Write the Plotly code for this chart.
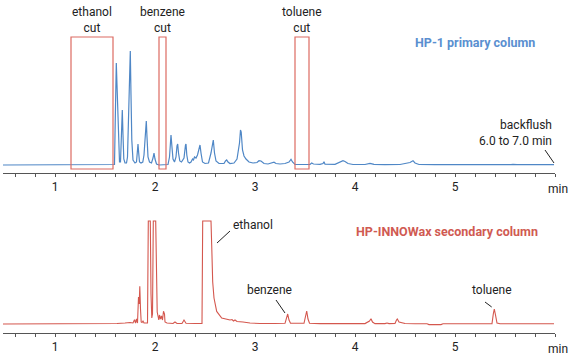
import plotly.graph_objects as go

# ---------------- data ----------------
# Primary column (HP-1) chromatogram: time (min) and relative response
primary_time = [0.48, 1.58, 1.595, 1.60, 1.605, 1.613, 1.62, 1.628, 1.635, 1.645, 1.655, 1.665, 1.673, 1.68,
                1.688, 1.70, 1.715, 1.725, 1.735, 1.745, 1.753, 1.76, 1.768, 1.78, 1.80, 1.815, 1.825, 1.83,
                1.837, 1.845, 1.86, 1.878, 1.89, 1.905, 1.913, 1.92, 1.93, 1.945, 1.965, 1.98, 1.99, 2.0,
                2.015, 2.04, 2.13, 2.145, 2.16, 2.168, 2.18, 2.195, 2.21, 2.22, 2.227, 2.235, 2.248, 2.265,
                2.29, 2.305, 2.31, 2.318, 2.33, 2.345, 2.36, 2.375, 2.385, 2.395, 2.41, 2.425, 2.44, 2.45,
                2.46, 2.475, 2.50, 2.535, 2.56, 2.575, 2.583, 2.595, 2.61, 2.64, 2.69, 2.705, 2.717, 2.73,
                2.75, 2.79, 2.82, 2.845, 2.855, 2.862, 2.875, 2.89, 2.91, 2.94, 2.98, 3.02, 3.04, 3.06,
                3.09, 3.13, 3.17, 3.19, 3.21, 3.25, 3.30, 3.34, 3.36, 3.375, 3.40, 3.55, 3.567, 3.585,
                3.65, 3.68, 3.69, 3.70, 3.80, 3.86, 3.88, 3.90, 3.93, 3.98, 4.10, 4.15, 4.19, 4.30, 4.45,
                4.55, 4.58, 4.60, 4.64, 4.80, 4.95, 5.07, 5.10, 5.13, 5.27, 5.29, 5.31, 5.56, 5.58, 5.62,
                5.75, 5.78, 5.81, 5.99]
primary_signal = [0, 0, 0.5, 30, 55, 102, 80, 50, 15, 3, 3, 35, 55, 30,
                  6, 2, 2, 8, 45, 90, 114, 70, 25, 5, 2, 3, 18, 21,
                  12, 3, 2, 3, 10, 38, 44, 28, 8, 3, 2, 7, 12, 6,
                  1, 0, 0.5, 8, 30, 20, 6, 3, 8, 19, 21, 12, 4, 3,
                  7, 20, 21, 10, 3, 2, 3, 6, 5, 8, 7, 10, 18, 20,
                  12, 3, 1.5, 2, 12, 24, 25, 12, 4, 1.5, 1.5, 4, 5, 3,
                  1.5, 2, 6, 22, 35, 33, 15, 9, 6, 3, 2, 2.5, 4.3, 4,
                  1.5, 1, 2.5, 2.8, 1.5, 1, 1.5, 3, 5.7, 3, 0.5, 0.5, 2, 1,
                  0.7, 1.5, 3.3, 0.8, 0.7, 3, 4.3, 3.5, 1.5, 0.5, 0.5, 1.7, 0.7, 0.4, 0.5,
                  2.5, 4.3, 2, 0.5, 0.3, 0.4, 0.3, 0.8, 0.3, 0.3, 0.6, 0.3, 0.3, 0.7, 0.3,
                  0.4, 0.7, 0.3, 0.3]

# Secondary column (HP-INNOWax) chromatogram (off-scale peaks shown clipped at 103)
secondary_time = [0.48, 0.75, 0.78, 0.80, 1.02, 1.04, 1.06, 1.25, 1.27, 1.29, 1.50, 1.52, 1.54, 1.62,
                  1.70, 1.75, 1.78, 1.795, 1.805, 1.815, 1.825, 1.835, 1.842, 1.848, 1.855, 1.862, 1.87,
                  1.88, 1.89, 1.925, 1.933, 1.953, 1.96, 1.968, 1.975, 1.983, 2.007, 2.015, 2.022, 2.03,
                  2.038, 2.045, 2.055, 2.065, 2.075, 2.085, 2.095, 2.10, 2.12, 2.18, 2.20, 2.22, 2.27,
                  2.29, 2.31, 2.40, 2.47, 2.477, 2.56, 2.567, 2.577, 2.59, 2.617, 2.667, 2.75, 2.77,
                  2.785, 2.80, 2.82, 2.88, 2.95, 3.05, 3.10, 3.20, 3.30, 3.315, 3.327, 3.34, 3.355, 3.49,
                  3.505, 3.517, 3.53, 3.545, 3.65, 4.10, 4.145, 4.16, 4.175, 4.20, 4.30, 4.32, 4.34,
                  4.40, 4.415, 4.423, 4.44, 4.46, 4.50, 4.60, 4.72, 4.74, 4.86, 4.88, 5.10, 5.37, 5.383,
                  5.393, 5.405, 5.42, 5.45, 5.99]
secondary_signal = [0, 0, 0.4, 0, 0, 0.5, 0, 0, 0.4, 0, 0, 0.5, 0, 0.5,
                    1, 1.5, 1, 4.3, 1, 5, 1, 27, 20, 37.7, 15, 2, 1.5,
                    3, 1, 1, 103, 103, 30, 6, 10, 103, 103, 40, 12, 8,
                    4, 9, 5, 8, 4, 12.7, 10, 2, 1, 0.5, 2, 0.5, 0.5,
                    4, 0.8, 0.5, 0.5, 103, 103, 79, 42, 26, 12.6, 6, 4, 4.5,
                    3, 4, 2.5, 2, 1, 0.5, 0.3, 0.5, 0.7, 6, 10, 4, 0.7, 0.7,
                    9, 13, 5, 0.8, 0.4, 0.4, 3, 5.3, 2, 0.4, 0.4, 1, 0.4,
                    0.5, 4, 5, 2, 1.5, 0.5, 0.3, 0.2, -0.6, -0.6, 0.2, 0.2, 0.4, 10,
                    15, 9, 1, 0.3, 0.3]

# Heart-cut windows on the primary column (start, end in min)
cut_names = ["ethanol<br>cut", "benzene<br>cut", "toluene<br>cut"]
cut_start = [1.16, 2.04, 3.40]
cut_end = [1.58, 2.11, 3.54]

tick_values = [1, 2, 3, 4, 5]
tick_labels = ["1", "2", "3", "4", "5"]

# ---------------- styling ----------------
W, H = 569, 357
BLUE = "#4f87c6"
RED = "#d4574e"
RECT = "#dc6b62"
AXIS = "#555555"
TXT = "#222222"
FONT = "Roboto, sans-serif"

x_dom = [3 / W, 555 / W]
x_rng = [0.48, 6.0]

fig = go.Figure()
fig.add_trace(go.Scatter(x=primary_time, y=primary_signal, mode="lines",
                         line=dict(color=BLUE, width=1.2), xaxis="x", yaxis="y",
                         showlegend=False, hoverinfo="skip"))
fig.add_trace(go.Scatter(x=secondary_time, y=secondary_signal, mode="lines",
                         line=dict(color=RED, width=1.1), xaxis="x2", yaxis="y2",
                         showlegend=False, hoverinfo="skip"))

axis_common = dict(range=x_rng, domain=x_dom, showgrid=False, zeroline=False,
                   showline=True, linecolor=AXIS, linewidth=1,
                   tickmode="array", tickvals=tick_values, ticktext=tick_labels,
                   ticks="outside", ticklen=3, tickcolor=AXIS, tickwidth=1,
                   tickfont=dict(family=FONT, size=12, color=TXT),
                   minor=dict(dtick=0.2, tick0=0, ticks="outside", ticklen=3,
                              tickcolor=AXIS, tickwidth=1, showgrid=False))

fig.update_layout(
    width=W, height=H,
    margin=dict(l=0, r=0, t=0, b=0),
    paper_bgcolor="white", plot_bgcolor="white",
    xaxis=dict(anchor="y", **axis_common),
    xaxis2=dict(anchor="y2", **axis_common),
    yaxis=dict(domain=[1 - 173 / H, 1], range=[-8, 165], visible=False),
    yaxis2=dict(domain=[1 - 333 / H, 1 - 190 / H], range=[-9, 134], visible=False),
)

# cut windows
for name, a, b in zip(cut_names, cut_start, cut_end):
    fig.add_shape(type="rect", xref="x", yref="y", x0=a, x1=b, y0=-4, y1=128,
                  line=dict(color=RECT, width=1.2), fillcolor="rgba(0,0,0,0)")
    fig.add_annotation(xref="x", yref="y", x=(a + b) / 2, y=145, text=name,
                       showarrow=False, font=dict(family=FONT, size=12, color=TXT),
                       align="center")

# titles
fig.add_annotation(xref="x", yref="y", x=5.20, y=123, text="<b>HP-1 primary column</b>",
                   showarrow=False, font=dict(family=FONT, size=12.5, color="#5a8fd0"))
fig.add_annotation(xref="x2", yref="y2", x=4.92, y=93, text="<b>HP-INNOWax secondary column</b>",
                   showarrow=False, font=dict(family=FONT, size=12.5, color="#d05a52"))

# backflush note
fig.add_annotation(xref="x", yref="y", x=5.985, y=32.5, text="backflush<br>6.0 to 7.0 min",
                   showarrow=False, xanchor="right", align="right",
                   font=dict(family=FONT, size=12, color=TXT))
fig.add_shape(type="line", xref="x", yref="y", x0=5.90, y0=15, x1=5.99, y1=2,
              line=dict(color="#222222", width=1))

# peak labels on the secondary column
labels = [("ethanol", 2.76, 99, "left", 2.62, 81, 2.75, 93),
          ("benzene", 3.14, 34, "center", 3.21, 24, 3.30, 11),
          ("toluene", 5.37, 34, "center", 5.30, 22, 5.367, 17)]
for txt, tx, ty, anc, lx0, ly0, lx1, ly1 in labels:
    fig.add_annotation(xref="x2", yref="y2", x=tx, y=ty, text=txt, showarrow=False,
                       xanchor=anc, font=dict(family=FONT, size=12, color=TXT))
    fig.add_shape(type="line", xref="x2", yref="y2", x0=lx0, y0=ly0, x1=lx1, y1=ly1,
                  line=dict(color="#222222", width=1))

# "min" unit labels (paper coordinates, just below each time axis)
for ypx in (189, 349):
    fig.add_annotation(xref="paper", yref="paper", x=546 / W, y=1 - ypx / H, text="min",
                       showarrow=False, xanchor="left", yanchor="middle",
                       font=dict(family=FONT, size=12, color=TXT))

fig.write_html("out.html", config={"displayModeBar": False},
               post_script="document.body.style.margin='0';document.body.style.overflow='hidden';")
